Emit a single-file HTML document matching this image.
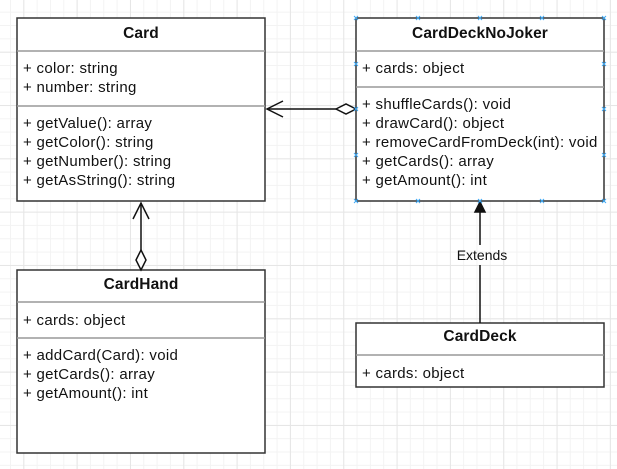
<!DOCTYPE html>
<html><head><meta charset="utf-8"><style>
html,body{margin:0;padding:0;}
body{width:617px;height:469px;overflow:hidden;background-color:#fff;
background-image:
linear-gradient(to right,#e6e6e6 1px,transparent 1px),
linear-gradient(to bottom,#e6e6e6 1px,transparent 1px),
linear-gradient(to right,#f3f3f3 1px,transparent 1px),
linear-gradient(to bottom,#f3f3f3 1px,transparent 1px);
background-size:53.333px 53.333px,53.333px 53.333px,13.333px 13.333px,13.333px 13.333px;
background-position:23.3px 0,0 51.7px,10px 0,0 11.7px;}
svg{position:absolute;left:0;top:0;}
text{font-family:"Liberation Sans",sans-serif;font-size:15px;letter-spacing:0.3px;fill:#111;}
.b{font-weight:bold;font-size:15.5px;letter-spacing:0.1px;}
</style></head><body>
<svg width="617" height="469" xmlns="http://www.w3.org/2000/svg">
<g stroke="#333" stroke-width="1.5" fill="#fff">
<rect x="17" y="18" width="248" height="183"/>
<rect x="356" y="18" width="248" height="183"/>
<rect x="17" y="270" width="248" height="183"/>
<rect x="356" y="323" width="248" height="64"/>
</g>
<g stroke="#999" stroke-width="1.5">
<line x1="17" y1="51" x2="265" y2="51"/><line x1="17" y1="106" x2="265" y2="106"/>
<line x1="356" y1="51" x2="604" y2="51"/><line x1="356" y1="87" x2="604" y2="87"/>
<line x1="17" y1="302" x2="265" y2="302"/><line x1="17" y1="338" x2="265" y2="338"/>
<line x1="356" y1="355" x2="604" y2="355"/>
</g>
<text class="b" x="141" y="38" text-anchor="middle">Card</text>
<text x="23" y="73">+ color: string</text>
<text x="23" y="92">+ number: string</text>
<text x="23" y="128">+ getValue(): array</text>
<text x="23" y="147">+ getColor(): string</text>
<text x="23" y="166">+ getNumber(): string</text>
<text x="23" y="185">+ getAsString(): string</text>
<text class="b" x="480" y="38" text-anchor="middle">CardDeckNoJoker</text>
<text x="362" y="73">+ cards: object</text>
<text x="362" y="109">+ shuffleCards(): void</text>
<text x="362" y="128">+ drawCard(): object</text>
<text x="362" y="147">+ removeCardFromDeck(int): void</text>
<text x="362" y="166">+ getCards(): array</text>
<text x="362" y="185">+ getAmount(): int</text>
<text class="b" x="141" y="289" text-anchor="middle">CardHand</text>
<text x="23" y="325">+ cards: object</text>
<text x="23" y="360">+ addCard(Card): void</text>
<text x="23" y="379">+ getCards(): array</text>
<text x="23" y="398">+ getAmount(): int</text>
<text class="b" x="480" y="341" text-anchor="middle">CardDeck</text>
<text x="362" y="378">+ cards: object</text>
<g stroke="#111" stroke-width="1.5" fill="none">
<line x1="267" y1="109" x2="336" y2="109"/>
<polyline points="283,101 267,109 283,117"/>
<polygon points="336,109 346,104 356,109 346,114" fill="#fff"/>
<line x1="141" y1="203" x2="141" y2="250"/>
<polyline points="133,219 141,203 149,219"/>
<polygon points="141,250 146,260 141,270 136,260" fill="#fff"/>
<line x1="480" y1="210" x2="480" y2="245"/>
<line x1="480" y1="265" x2="480" y2="323"/>
<polygon points="475,212 480,202 485,212" fill="#111"/>
</g>
<text x="482" y="260" text-anchor="middle" style="font-size:14px;letter-spacing:0">Extends</text>
<g stroke="#3fa9f5" stroke-width="1">
<path d="M354 16l4 4M358 16l-4 4M416 16l4 4M420 16l-4 4M478 16l4 4M482 16l-4 4M540 16l4 4M544 16l-4 4M602 16l4 4M606 16l-4 4M354 199l4 4M358 199l-4 4M416 199l4 4M420 199l-4 4M478 199l4 4M482 199l-4 4M540 199l4 4M544 199l-4 4M602 199l4 4M606 199l-4 4M354 62l4 4M358 62l-4 4M354 107l4 4M358 107l-4 4M354 153l4 4M358 153l-4 4M602 62l4 4M606 62l-4 4M602 107l4 4M606 107l-4 4M602 153l4 4M606 153l-4 4"/>
</g>
</svg>
</body></html>
